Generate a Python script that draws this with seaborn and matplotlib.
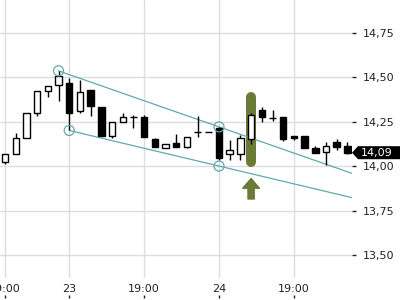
import numpy as np
import pandas as pd
import matplotlib
matplotlib.use("Agg")
import matplotlib.pyplot as plt
from matplotlib.patches import Polygon
from matplotlib.transforms import IdentityTransform
import seaborn as sns

# candle data (hourly)
opens  = [14.02, 14.07, 14.16, 14.30, 14.42, 14.455, 14.465, 14.31, 14.425, 14.33,
          14.17, 14.245, 14.275, 14.275, 14.15, 14.10, 14.13, 14.105, 14.19, 14.19,
          14.215, 14.065, 14.07, 14.15, 14.315, 14.27, 14.275, 14.17, 14.17, 14.10,
          14.08, 14.135, 14.11]
highs  = [14.07, 14.185, 14.30, 14.42, 14.45, 14.535, 14.495, 14.485, 14.425, 14.33,
          14.245, 14.30, 14.285, 14.285, 14.155, 14.125, 14.18, 14.165, 14.28, 14.19,
          14.22, 14.145, 14.175, 14.30, 14.33, 14.315, 14.275, 14.17, 14.17, 14.11,
          14.135, 14.15, 14.135]
lows   = [14.01, 14.07, 14.16, 14.28, 14.39, 14.365, 14.20, 14.30, 14.28, 14.17,
          14.155, 14.245, 14.215, 14.165, 14.105, 14.10, 14.105, 14.10, 14.165, 14.19,
          14.035, 14.035, 14.035, 14.125, 14.245, 14.255, 14.14, 14.145, 14.10, 14.075,
          14.005, 14.09, 14.065]
closes = [14.07, 14.16, 14.30, 14.42, 14.45, 14.505, 14.30, 14.415, 14.335, 14.17,
          14.245, 14.275, 14.275, 14.165, 14.105, 14.125, 14.105, 14.165, 14.19, 14.19,
          14.045, 14.09, 14.155, 14.285, 14.275, 14.27, 14.15, 14.16, 14.10, 14.075,
          14.11, 14.105, 14.075]

tick_pos = [0, 6, 13, 20, 27]
tick_labels = ["19:00", "23", "19:00", "24", "19:00"]
y_ticks = [13.50, 13.75, 14.00, 14.25, 14.50, 14.75]
last_price = 14.09

# trend channel anchors (candle index, price)
upper_pts = [(5, 14.535), (20, 14.22)]
lower_pts = [(6, 14.20), (20, 14.00)]

# signal candle
signal_idx = 23
signal_top, signal_bottom = 14.39, 14.02
arrow_top, arrow_bottom = 13.93, 13.815

teal = "#62a9ad"
olive = "#6b7b37"

df = pd.DataFrame({"o": opens, "h": highs, "l": lows, "c": closes})
df["i"] = np.arange(len(df))

sns.set_style("white")
plt.rcParams['font.family'] = ['DejaVu Sans']

fig = plt.figure(figsize=(4, 3), dpi=100)
ax = fig.add_axes([0, 1 - 278 / 300, 352 / 400, 278 / 300])
ax.set_xlim(-0.47, 32.43)
ax.set_ylim(13.371, 14.933)

for y in y_ticks:
    ax.axhline(y, color="#dddddd", lw=1, zorder=0)
for x in tick_pos:
    ax.axvline(x, color="#dddddd", lw=1, zorder=0)

# highlight behind the signal candle
ax.plot([signal_idx, signal_idx], [signal_top, signal_bottom], color=olive,
        lw=7.2, solid_capstyle="round", zorder=1)
ax.annotate("", xy=(signal_idx, arrow_top), xytext=(signal_idx, arrow_bottom),
            arrowprops=dict(arrowstyle="simple,head_width=1.2,head_length=0.7,tail_width=0.45",
                            color=olive, shrinkA=0, shrinkB=0, mutation_scale=10))

# trend lines
x_end = ax.get_xlim()[1]
for pts in (upper_pts, lower_pts):
    (x0, y0), (x1, y1) = pts
    slope = (y1 - y0) / (x1 - x0)
    line = pd.DataFrame({"x": [x0, x_end], "y": [y0, y0 + slope * (x_end - x0)]})
    sns.lineplot(data=line, x="x", y="y", ax=ax, color=teal, lw=0.9, zorder=2)
circ = pd.DataFrame(upper_pts + lower_pts, columns=["x", "y"])
sns.scatterplot(data=circ, x="x", y="y", ax=ax, s=52, facecolor="none",
                edgecolor=teal, linewidth=0.9, zorder=5)

# candles
ax.vlines(df["i"], df["l"], df["h"], color="black", lw=1, zorder=3)
up = df["c"] >= df["o"]
body = (df["c"] - df["o"]).abs().clip(lower=0.002)
bottom = df[["o", "c"]].min(axis=1)
ax.bar(df["i"][up], body[up], bottom=bottom[up], width=0.6, color="white",
       edgecolor="black", lw=1, zorder=4)
ax.bar(df["i"][~up], body[~up], bottom=bottom[~up], width=0.6, color="black",
       edgecolor="black", lw=1, zorder=4)

for s in ax.spines.values():
    s.set_visible(False)

ax.yaxis.tick_right()
ax.set_yticks(y_ticks)
ax.set_yticklabels([f"{v:.2f}".replace(".", ",") for v in y_ticks])
ax.tick_params(axis="y", length=3, width=1, pad=4.5, labelsize=8, colors="#222222")
ax.set_xticks(tick_pos)
ax.set_xticklabels(tick_labels)
ax.tick_params(axis="x", length=0, pad=4, labelsize=8, colors="#222222")
ax.set_xlabel("")
ax.set_ylabel("")

sec = ax.secondary_xaxis(-0.072)
sec.set_xticks(tick_pos)
sec.set_xticklabels([""] * len(tick_pos))
sec.tick_params(direction="in", length=2.2, width=1, colors="#222222")
sec.spines["bottom"].set_visible(False)

# last price tag
yc = ax.transData.transform((0, closes[-1]))[1]
tag = Polygon([(352, yc), (358, yc + 6.5), (400, yc + 6.5), (400, yc - 6.5), (358, yc - 6.5)],
              closed=True, facecolor="black", edgecolor="none", transform=IdentityTransform())
fig.add_artist(tag)
fig.text(377 / 400, yc / 300, f"{last_price:.2f}".replace(".", ","), color="white",
         fontsize=8, ha="center", va="center")

fig.savefig("out.png", dpi=100)
